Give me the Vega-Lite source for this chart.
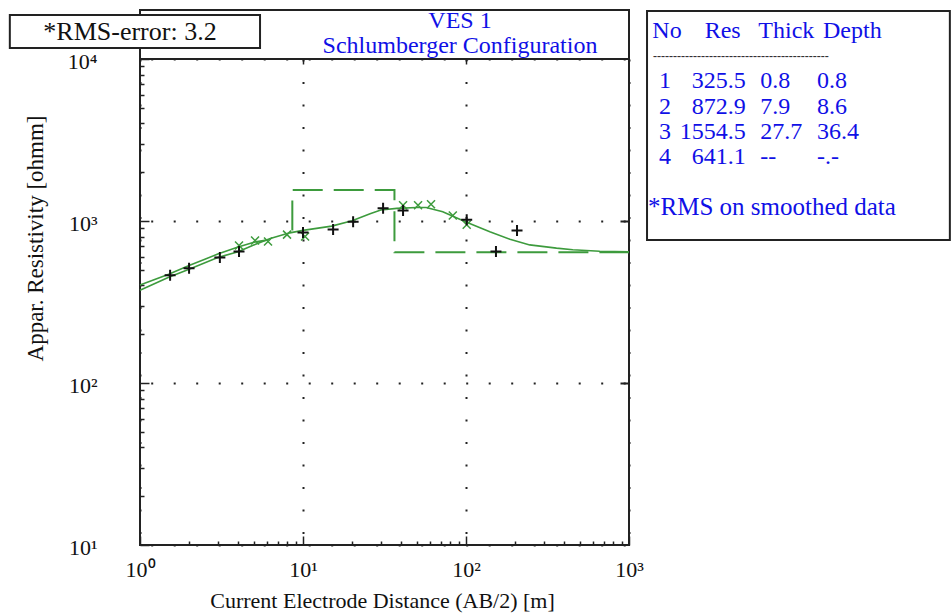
{
  "$schema": "https://vega.github.io/schema/vega-lite/v6.json",
  "width": 489,
  "height": 486,
  "autosize": {"type": "none"},
  "padding": {"left": 140, "top": 59, "right": 322, "bottom": 68},
  "background": "white",
  "config": {"view": {"stroke": "#222", "strokeWidth": 2}, "font": "Liberation Serif"},
  "resolve": {"scale": {"x": "independent", "y": "independent"}},
  "layer": [
    {
      "resolve": {"axis": {"x": "independent", "y": "independent"}},
      "layer": [
        {
          "data": {"values": [
            {"i": 1, "AB2": 8.6, "rho": 872.9},
            {"i": 2, "AB2": 8.6, "rho": 1554.5},
            {"i": 3, "AB2": 36.4, "rho": 1554.5},
            {"i": 4, "AB2": 36.4, "rho": 641.1},
            {"i": 5, "AB2": 1000, "rho": 641.1}
          ]},
          "mark": {"type": "line", "color": "#3d9b3d", "strokeWidth": 2, "strokeDash": [30, 11]},
          "encoding": {
            "x": {"field": "AB2", "type": "quantitative",
              "scale": {"type": "log", "domain": [1, 1000], "nice": false},
              "axis": {"orient": "bottom", "values": [1, 10, 100, 1000], "ticks": false, "domain": false,
                "grid": true, "gridColor": "#222", "gridDash": [2, 20.5], "gridWidth": 2,
                "labelExpr": "'10' + ['⁰','¹','²','³','⁴'][round(log(datum.value)/LN10)]",
                "labelFont": "Liberation Serif", "labelFontSize": 22, "labelColor": "#111",
                "labelPadding": 31, "labelBaseline": "alphabetic", "labelFlush": false, "labelOverlap": false,
                "title": "Current Electrode Distance (AB/2) [m]", "titleFont": "Liberation Serif",
                "titleFontSize": 22, "titleFontWeight": "normal", "titleColor": "#111",
                "titleX": 242, "titleY": 62, "titleBaseline": "alphabetic", "titleAlign": "center"}},
            "y": {"field": "rho", "type": "quantitative",
              "scale": {"type": "log", "domain": [10, 10000], "nice": false},
              "axis": {"orient": "left", "values": [10, 100, 1000, 10000], "ticks": false, "domain": false,
                "grid": true, "gridColor": "#222", "gridDash": [2, 20.5], "gridWidth": 2, "gridDashOffset": 11.8,
                "labelExpr": "'10' + ['⁰','¹','²','³','⁴'][round(log(datum.value)/LN10)]",
                "labelFont": "Liberation Serif", "labelFontSize": 22, "labelColor": "#111",
                "labelPadding": 43, "labelBaseline": "middle", "labelAlign": "right", "labelOffset": 2,
                "labelFlush": false, "labelOverlap": false,
                "title": "Appar. Resistivity [ohmm]", "titleFont": "Liberation Serif",
                "titleFontSize": 23, "titleFontWeight": "normal", "titleColor": "#111",
                "titleX": -105, "titleY": 179, "titleAngle": -90, "titleAlign": "center", "titleBaseline": "middle"}},
            "order": {"field": "i"}
          }
        },
        {
          "data": {"values": [
            {"AB2": 1, "rho": 374}, {"AB2": 1.5, "rho": 450}, {"AB2": 2, "rho": 503},
            {"AB2": 3, "rho": 596}, {"AB2": 4, "rho": 645}, {"AB2": 4.9, "rho": 706},
            {"AB2": 6.3, "rho": 780}, {"AB2": 8.3, "rho": 845}, {"AB2": 10, "rho": 875},
            {"AB2": 15, "rho": 930}, {"AB2": 20, "rho": 1005}, {"AB2": 25.8, "rho": 1110},
            {"AB2": 30, "rho": 1170}, {"AB2": 37.6, "rho": 1197}, {"AB2": 50, "rho": 1212},
            {"AB2": 57, "rho": 1212}, {"AB2": 72, "rho": 1140}, {"AB2": 100, "rho": 985},
            {"AB2": 140, "rho": 857}, {"AB2": 186, "rho": 771}, {"AB2": 246, "rho": 712},
            {"AB2": 359, "rho": 680}, {"AB2": 452, "rho": 665}, {"AB2": 661, "rho": 650},
            {"AB2": 1000, "rho": 645}
          ]},
          "mark": {"type": "line", "color": "#3d9b3d", "strokeWidth": 1.6},
          "encoding": {
            "x": {"field": "AB2", "type": "quantitative", "scale": {"type": "log"},
              "axis": {"orient": "bottom", "values": [1, 10, 100, 1000], "labels": false, "domain": false,
                "grid": false, "ticks": true, "tickSize": -9, "tickColor": "#222", "tickWidth": 1.5, "title": null}},
            "y": {"field": "rho", "type": "quantitative", "scale": {"type": "log"},
              "axis": {"orient": "left", "values": [10, 100, 1000, 10000], "labels": false, "domain": false,
                "grid": false, "ticks": true, "tickSize": -9, "tickColor": "#222", "tickWidth": 1.5, "title": null}}
          }
        },
        {
          "data": {"values": [
            {"AB2": 1, "rho": 402}, {"AB2": 1.5, "rho": 469}, {"AB2": 2, "rho": 532},
            {"AB2": 2.5, "rho": 580}, {"AB2": 3, "rho": 625}, {"AB2": 4, "rho": 690},
            {"AB2": 5, "rho": 740}, {"AB2": 6.1, "rho": 765}
          ]},
          "mark": {"type": "line", "color": "#3d9b3d", "strokeWidth": 1.6},
          "encoding": {
            "x": {"field": "AB2", "type": "quantitative", "scale": {"type": "log"},
              "axis": {"orient": "bottom", "values": [2, 3, 4, 5, 6, 7, 8, 9, 20, 30, 40, 50, 60, 70, 80, 90, 200, 300, 400, 500, 600, 700, 800, 900],
                "labels": false, "domain": false, "grid": false, "ticks": true, "tickSize": -4,
                "tickColor": "#222", "tickWidth": 1.5, "title": null}},
            "y": {"field": "rho", "type": "quantitative", "scale": {"type": "log"},
              "axis": {"orient": "left", "values": [20, 30, 40, 50, 60, 70, 80, 90, 200, 300, 400, 500, 600, 700, 800, 900, 2000, 3000, 4000, 5000, 6000, 7000, 8000, 9000],
                "labels": false, "domain": false, "grid": false, "ticks": true, "tickSize": -4,
                "tickColor": "#222", "tickWidth": 1.5, "title": null}}
          }
        },
        {
          "data": {"values": [
            {"AB2": 4.05, "rho": 706}, {"AB2": 5.08, "rho": 757}, {"AB2": 6.1, "rho": 747},
            {"AB2": 7.98, "rho": 824}, {"AB2": 10.3, "rho": 802}, {"AB2": 41.1, "rho": 1250},
            {"AB2": 50.8, "rho": 1250}, {"AB2": 61, "rho": 1269}, {"AB2": 83, "rho": 1080},
            {"AB2": 101, "rho": 949}
          ]},
          "mark": {"type": "point", "shape": "M-1,-1L1,1M-1,1L1,-1", "filled": false, "stroke": "#3d9b3d", "strokeWidth": 1.5, "size": 64, "opacity": 1},
          "encoding": {
            "x": {"field": "AB2", "type": "quantitative", "scale": {"type": "log"},
              "axis": {"orient": "top", "values": [10, 100], "labels": false, "domain": false,
                "grid": false, "ticks": true, "tickSize": -5, "tickColor": "#222", "tickWidth": 1.5, "title": null}},
            "y": {"field": "rho", "type": "quantitative", "scale": {"type": "log"},
              "axis": {"orient": "right", "values": [100, 1000], "labels": false, "domain": false,
                "grid": false, "ticks": true, "tickSize": -9, "tickColor": "#222", "tickWidth": 2, "title": null}}
          }
        },
        {
          "data": {"values": [
            {"AB2": 1.53, "rho": 462}, {"AB2": 2.0, "rho": 511}, {"AB2": 3.09, "rho": 596},
            {"AB2": 4.05, "rho": 649}, {"AB2": 10.0, "rho": 848}, {"AB2": 15.3, "rho": 885},
            {"AB2": 20.3, "rho": 990}, {"AB2": 31.0, "rho": 1197}, {"AB2": 41.1, "rho": 1162},
            {"AB2": 101, "rho": 1019}, {"AB2": 152.7, "rho": 649}, {"AB2": 205.6, "rho": 873}
          ]},
          "mark": {"type": "point", "shape": "M-1,0L1,0M0,-1L0,1", "filled": false, "stroke": "#111", "strokeWidth": 2, "size": 121, "opacity": 1},
          "encoding": {
            "x": {"field": "AB2", "type": "quantitative", "scale": {"type": "log"}, "axis": null},
            "y": {"field": "rho", "type": "quantitative", "scale": {"type": "log"}, "axis": null}
          }
        },
        {
          "data": {"values": [{}]},
          "mark": {"type": "rect", "fill": null, "fillOpacity": 0, "stroke": "#222", "strokeWidth": 2},
          "encoding": {
            "x": {"datum": 1, "type": "quantitative", "scale": {"type": "log"}, "axis": null},
            "x2": {"datum": 1000},
            "y": {"datum": 10000, "type": "quantitative", "scale": {"type": "log"}, "axis": null},
            "y2": {"datum": 20070}
          }
        },
        {
          "data": {"values": [{}]},
          "mark": {"type": "rect", "fill": "white", "stroke": "#222", "strokeWidth": 2},
          "encoding": {
            "x": {"datum": 0.159, "type": "quantitative", "scale": {"type": "log"}, "axis": null},
            "x2": {"datum": 5.45},
            "y": {"datum": 11690, "type": "quantitative", "scale": {"type": "log"}, "axis": null},
            "y2": {"datum": 18690}
          }
        },
        {
          "data": {"values": [{}]},
          "mark": {"type": "rect", "fill": "white", "stroke": "#222", "strokeWidth": 2},
          "encoding": {
            "x": {"datum": 1290, "type": "quantitative", "scale": {"type": "log"}, "axis": null},
            "x2": {"datum": 93000},
            "y": {"datum": 764, "type": "quantitative", "scale": {"type": "log"}, "axis": null},
            "y2": {"datum": 19800}
          }
        },
        {
          "data": {"values": [{}]},
          "mark": {"type": "text", "text": "*RMS-error: 3.2", "font": "Liberation Serif", "fontSize": 26, "color": "#111", "align": "center", "baseline": "alphabetic"},
          "encoding": {
            "x": {"datum": 0.868, "type": "quantitative", "scale": {"type": "log"}, "axis": null},
            "y": {"datum": 13100, "type": "quantitative", "scale": {"type": "log"}, "axis": null}
          }
        },
        {
          "data": {"values": [{}]},
          "mark": {"type": "text", "text": ["VES 1", "Schlumberger Configuration"], "lineHeight": 24.5, "font": "Liberation Serif", "fontSize": 24, "color": "#1010e6", "align": "center", "baseline": "alphabetic"},
          "encoding": {
            "x": {"datum": 91.9, "type": "quantitative", "scale": {"type": "log"}, "axis": null},
            "y": {"datum": 15430, "type": "quantitative", "scale": {"type": "log"}, "axis": null}
          }
        }
      ]
    },
    {
      "data": {"values": [
        {"No": "No", "Res": "Res", "Thick": "Thick", "Depth": "Depth"},
        {"No": "1", "Res": "325.5", "Thick": "0.8", "Depth": "0.8"},
        {"No": "2", "Res": "872.9", "Thick": "7.9", "Depth": "8.6"},
        {"No": "3", "Res": "1554.5", "Thick": "27.7", "Depth": "36.4"},
        {"No": "4", "Res": "641.1", "Thick": "--", "Depth": "-.-"}
      ]},
      "encoding": {
        "y": {"field": "No", "type": "ordinal",
          "scale": {"type": "point", "domain": ["No", "line", "1", "2", "3", "4", "gap", "note"], "range": [-28, 148.4], "padding": 0},
          "axis": null}
      },
      "layer": [
        {
          "transform": [{"filter": "datum.No != 'No'"}],
          "mark": {"type": "text", "align": "center", "baseline": "middle", "font": "Liberation Serif", "fontSize": 24, "color": "#1010e6"},
          "encoding": {
            "x": {"datum": "No", "type": "nominal", "scale": {"type": "point", "domain": ["No", "Res", "Thick", "Depth"], "range": [525, 677], "padding": 0}, "axis": null},
            "text": {"field": "No"}
          }
        },
        {
          "transform": [{"filter": "datum.No != 'No'"}],
          "mark": {"type": "text", "align": "right", "baseline": "middle", "dx": 30, "font": "Liberation Serif", "fontSize": 24, "color": "#1010e6"},
          "encoding": {
            "x": {"datum": "Res", "type": "nominal", "axis": null},
            "text": {"field": "Res"}
          }
        },
        {
          "transform": [{"filter": "datum.No != 'No'"}],
          "mark": {"type": "text", "align": "left", "baseline": "middle", "dx": -6, "font": "Liberation Serif", "fontSize": 24, "color": "#1010e6"},
          "encoding": {
            "x": {"datum": "Thick", "type": "nominal", "axis": null},
            "text": {"field": "Thick"}
          }
        },
        {
          "transform": [{"filter": "datum.No != 'No'"}],
          "mark": {"type": "text", "align": "left", "baseline": "middle", "font": "Liberation Serif", "fontSize": 24, "color": "#1010e6"},
          "encoding": {
            "x": {"datum": "Depth", "type": "nominal", "axis": null},
            "text": {"field": "Depth"}
          }
        },
        {
          "transform": [{"filter": "datum.No == 'No'"}],
          "mark": {"type": "text", "align": "center", "baseline": "middle", "dx": 2, "font": "Liberation Serif", "fontSize": 24, "color": "#1010e6"},
          "encoding": {
            "x": {"datum": "No", "type": "nominal", "axis": null},
            "text": {"field": "No"}
          }
        },
        {
          "transform": [{"filter": "datum.No == 'No'"}],
          "mark": {"type": "text", "align": "right", "baseline": "middle", "dx": 25, "font": "Liberation Serif", "fontSize": 24, "color": "#1010e6"},
          "encoding": {
            "x": {"datum": "Res", "type": "nominal", "axis": null},
            "text": {"field": "Res"}
          }
        },
        {
          "transform": [{"filter": "datum.No == 'No'"}],
          "mark": {"type": "text", "align": "left", "baseline": "middle", "dx": -8, "font": "Liberation Serif", "fontSize": 24, "color": "#1010e6"},
          "encoding": {
            "x": {"datum": "Thick", "type": "nominal", "axis": null},
            "text": {"field": "Thick"}
          }
        },
        {
          "transform": [{"filter": "datum.No == 'No'"}],
          "mark": {"type": "text", "align": "left", "baseline": "middle", "dx": 6, "font": "Liberation Serif", "fontSize": 24, "color": "#1010e6"},
          "encoding": {
            "x": {"datum": "Depth", "type": "nominal", "axis": null},
            "text": {"field": "Depth"}
          }
        },
        {
          "data": {"values": [{}]},
          "mark": {"type": "text", "text": "--------------------------------------------", "align": "left", "baseline": "middle", "dx": -12, "font": "Liberation Serif", "fontSize": 12, "fontWeight": "bold", "color": "#333"},
          "encoding": {
            "x": {"datum": "No", "type": "nominal", "axis": null},
            "y": {"datum": "line", "type": "ordinal", "axis": null}
          }
        },
        {
          "data": {"values": [{}]},
          "mark": {"type": "text", "text": "*RMS on smoothed data", "align": "left", "baseline": "middle", "dx": -17, "font": "Liberation Serif", "fontSize": 25, "color": "#1010e6"},
          "encoding": {
            "x": {"datum": "No", "type": "nominal", "axis": null},
            "y": {"datum": "note", "type": "ordinal", "axis": null}
          }
        }
      ]
    }
  ]
}
